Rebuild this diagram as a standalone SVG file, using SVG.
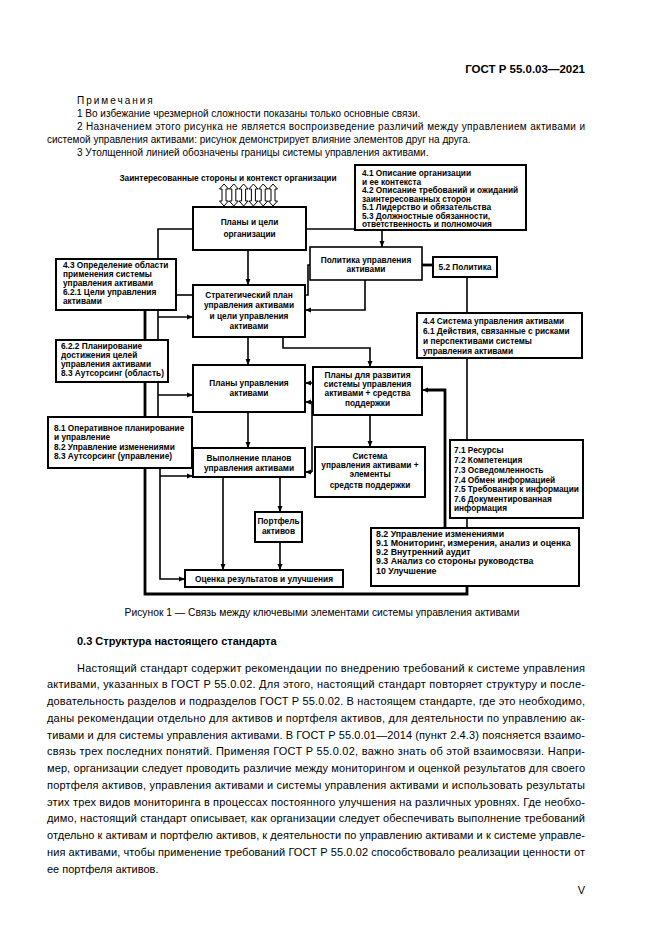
<svg xmlns="http://www.w3.org/2000/svg" width="661" height="935" viewBox="0 0 661 935">
<style>
.pg{font-family:"Liberation Sans",Arial,sans-serif;fill:#000}
.p{font-size:11px}
.n{font-size:10px}
.d{font-family:"Liberation Sans",Arial,sans-serif;font-size:8.3px;font-weight:bold;fill:#000}
.big{font-size:8.8px}
.m{text-anchor:middle}
.b{fill:#fff;stroke:#000;stroke-width:2}
.bt{fill:#fff;stroke:#000;stroke-width:1.6}
.l{fill:none;stroke:#000;stroke-width:1.6}
.k{fill:none;stroke:#000;stroke-width:2.8}
.ha{fill:#fff;stroke:#000;stroke-width:1}
</style>
<defs>
<marker id="a" markerUnits="userSpaceOnUse" markerWidth="6" markerHeight="6" viewBox="0 0 6 6" refX="6" refY="3" orient="auto"><path d="M0,0.5 L6,3 L0,5.5z" fill="#000"/></marker>
</defs>
<rect x="0" y="0" width="661" height="935" fill="#fff"/>

<g id="page-text" class="pg">
<text x="585" y="73" text-anchor="end" font-weight="bold" font-size="11.5">ГОСТ Р 55.0.03—2021</text>
<text class="n" x="77" y="104" letter-spacing="2">Примечания</text>
<text class="n" x="77" y="117">1 Во избежание чрезмерной сложности показаны только основные связи.</text>
<text class="n" x="77" y="130" textLength="508" lengthAdjust="spacing">2 Назначением этого рисунка не является воспроизведение различий между управлением активами и</text>
<text class="n" x="47" y="143">системой управления активами: рисунок демонстрирует влияние элементов друг на друга.</text>
<text class="n" x="77" y="156">3 Утолщенной линией обозначены границы системы управления активами.</text>
<text x="322" y="616" text-anchor="middle" font-size="10.3">Рисунок 1 — Связь между ключевыми элементами системы управления активами</text>
<text x="77" y="645" font-weight="bold" font-size="11">0.3  Структура настоящего стандарта</text>
<text class="p" x="77" y="671.6" textLength="508" lengthAdjust="spacing">Настоящий стандарт содержит рекомендации по внедрению требований к системе управления</text>
<text class="p" x="47" y="688.4" textLength="538" lengthAdjust="spacing">активами, указанных в ГОСТ Р 55.0.02. Для этого, настоящий стандарт повторяет структуру и после-</text>
<text class="p" x="47" y="705.1" textLength="538" lengthAdjust="spacing">довательность разделов и подразделов ГОСТ Р 55.0.02. В настоящем стандарте, где это необходимо,</text>
<text class="p" x="47" y="721.9" textLength="538" lengthAdjust="spacing">даны рекомендации отдельно для активов и портфеля активов, для деятельности по управлению ак-</text>
<text class="p" x="47" y="738.6" textLength="538" lengthAdjust="spacing">тивами и для системы управления активами. В ГОСТ Р 55.0.01—2014 (пункт 2.4.3) поясняется взаимо-</text>
<text class="p" x="47" y="755.4" textLength="538" lengthAdjust="spacing">связь трех последних понятий. Применяя ГОСТ Р 55.0.02, важно знать об этой взаимосвязи. Напри-</text>
<text class="p" x="47" y="772.1" textLength="538" lengthAdjust="spacing">мер, организации следует проводить различие между мониторингом и оценкой результатов для своего</text>
<text class="p" x="47" y="788.9" textLength="538" lengthAdjust="spacing">портфеля активов, управления активами и системы управления активами и использовать результаты</text>
<text class="p" x="47" y="805.6" textLength="538" lengthAdjust="spacing">этих трех видов мониторинга в процессах постоянного улучшения на различных уровнях. Где необхо-</text>
<text class="p" x="47" y="822.4" textLength="538" lengthAdjust="spacing">димо, настоящий стандарт описывает, как организации следует обеспечивать выполнение требований</text>
<text class="p" x="47" y="839.1" textLength="538" lengthAdjust="spacing">отдельно к активам и портфелю активов, к деятельности по управлению активами и к системе управле-</text>
<text class="p" x="47" y="855.9" textLength="538" lengthAdjust="spacing">ния активами, чтобы применение требований ГОСТ Р 55.0.02 способствовало реализации ценности от</text>
<text class="p" x="47" y="872.6">ее портфеля активов.</text>
<text class="p" x="585" y="894" text-anchor="end">V</text>
</g>

<g id="connectors">
<path class="l" d="M307,229 H355"/>
<path class="l" d="M382,230 V247" marker-end="url(#a)"/>
<path class="l" d="M193,229 H158 V259"/>
<path class="l" d="M248,250 V285" marker-end="url(#a)"/>
<path class="l" d="M176,295 H193"/>
<path class="l" d="M158,310 V340"/>
<path class="l" d="M158,317 H193" marker-end="url(#a)"/>
<path class="l" d="M305,295 H308 V265 H310"/>
<path class="l" d="M365,280 V310 H305" marker-end="url(#a)"/>
<path class="l" d="M248,337 V365" marker-end="url(#a)"/>
<path class="l" d="M283,337 V348 H370 V367" marker-end="url(#a)"/>
<path class="k" d="M422,265 H433"/>
<path class="l" d="M467,277 V313"/>
<path class="l" d="M467,358 V440"/>
<path class="l" d="M467,518 V528"/>
<path class="k" d="M445,528 V390 H428"/>
<path class="l" d="M430,390 H422" marker-end="url(#a)"/>
<path class="l" d="M158,382 V417"/>
<path class="l" d="M158,395 H193" marker-end="url(#a)"/>
<path class="l" d="M248,412 V448" marker-end="url(#a)"/>
<path class="l" d="M370,415 V447" marker-end="url(#a)"/>
<path class="l" d="M313,383 H305" marker-end="url(#a)"/>
<path class="l" d="M312,402 V472"/>
<path class="l" d="M312,402 H305" marker-end="url(#a)"/>
<path class="l" d="M312,472 H305" marker-end="url(#a)"/>
<path class="l" d="M223,477 V570" marker-end="url(#a)"/>
<path class="l" d="M280,477 V512" marker-end="url(#a)"/>
<path class="l" d="M280,542 V570" marker-end="url(#a)"/>
<path class="l" d="M160,468 V579 H185" marker-end="url(#a)"/>
<path class="l" d="M160,476 H193" marker-end="url(#a)"/>
<path class="k" d="M145,310 V340 M145,382 V417 M145,468 V594 H467 V586"/>
</g>

<g id="stakeholders">
<text class="d m" x="228" y="180.5">Заинтересованные стороны и контекст организации</text>
<polygon class="ha" points="224,184 228.5,189 226,189 226,201 228.5,201 224,206 219.5,201 222,201 222,189 219.5,189"/>
<polygon class="ha" points="233.8,184 238.3,189 235.8,189 235.8,201 238.3,201 233.8,206 229.3,201 231.8,201 231.8,189 229.3,189"/>
<polygon class="ha" points="243.6,184 248.1,189 245.6,189 245.6,201 248.1,201 243.6,206 239.1,201 241.6,201 241.6,189 239.1,189"/>
<polygon class="ha" points="253.4,184 257.9,189 255.4,189 255.4,201 257.9,201 253.4,206 248.9,201 251.4,201 251.4,189 248.9,189"/>
<polygon class="ha" points="263.2,184 267.7,189 265.2,189 265.2,201 267.7,201 263.2,206 258.7,201 261.2,201 261.2,189 258.7,189"/>
<polygon class="ha" points="273,184 277.5,189 275,189 275,201 277.5,201 273,206 268.5,201 271,201 271,189 268.5,189"/>
</g>

<g id="n-org"><rect class="b" x="193" y="207" width="113" height="43"/>
<text class="d m" x="249.5" y="225">Планы и цели</text><text class="d m" x="249.5" y="237">организации</text></g>

<g id="n-context"><rect class="b" x="355" y="165" width="171" height="65"/>
<text class="d" x="362" y="176">4.1 Описание организации</text>
<text class="d" x="362" y="184.5">и ее контекста</text>
<text class="d" x="362" y="193">4.2 Описание требований и ожиданий</text>
<text class="d" x="362" y="201.5">заинтересованных сторон</text>
<text class="d" x="362" y="210">5.1 Лидерство и обязательства</text>
<text class="d" x="362" y="218.5">5.3 Должностные обязанности,</text>
<text class="d" x="362" y="227">ответственность и полномочия</text></g>

<g id="n-policy"><rect class="bt" x="310" y="247" width="112" height="33"/>
<text class="d m" x="366" y="263">Политика управления</text><text class="d m" x="366" y="272">активами</text></g>

<g id="n-52"><rect class="b" x="433" y="257" width="64" height="20"/>
<text class="d m" x="465" y="270">5.2 Политика</text></g>

<g id="n-43"><rect class="b" x="56" y="259" width="120" height="51"/>
<text class="d" x="63" y="268">4.3 Определение области</text>
<text class="d" x="63" y="276.5">применения системы</text>
<text class="d" x="63" y="285.5">управления активами</text>
<text class="d" x="63" y="294.5">6.2.1 Цели управления</text>
<text class="d" x="63" y="304">активами</text></g>

<g id="n-samp"><rect class="b" x="193" y="285" width="112" height="52"/>
<text class="d m" x="249" y="298">Стратегический план</text>
<text class="d m" x="249" y="308">управления активами</text>
<text class="d m" x="249" y="318.5">и цели управления</text>
<text class="d m" x="249" y="328.5">активами</text></g>

<g id="n-44"><rect class="b" x="417" y="313" width="165" height="45"/>
<text class="d" x="423" y="324">4.4 Система управления активами</text>
<text class="d" x="423" y="334">6.1 Действия, связанные с рисками</text>
<text class="d" x="423" y="344">и перспективами системы</text>
<text class="d" x="423" y="354.3">управления активами</text></g>

<g id="n-622"><rect class="b" x="56" y="340" width="112" height="42"/>
<text class="d" x="61" y="349">6.2.2 Планирование</text>
<text class="d" x="61" y="358">достижения целей</text>
<text class="d" x="61" y="367">управления активами</text>
<text class="d" x="61" y="376">8.3 Аутсорсинг (область)</text></g>

<g id="n-amp"><rect class="b" x="193" y="365" width="112" height="47"/>
<text class="d m" x="249" y="386">Планы управления</text><text class="d m" x="249" y="396">активами</text></g>

<g id="n-dev"><rect class="b" x="313" y="367" width="109" height="48"/>
<text class="d m" x="367.5" y="378">Планы для развития</text>
<text class="d m" x="367.5" y="387">системы управления</text>
<text class="d m" x="367.5" y="396">активами + средства</text>
<text class="d m" x="367.5" y="406">поддержки</text></g>

<g id="n-81"><rect class="b" x="48" y="417" width="144" height="51"/>
<text class="d" x="54" y="430.5">8.1 Оперативное планирование</text>
<text class="d" x="54" y="439.8">и управление</text>
<text class="d" x="54" y="449.6">8.2 Управление изменениями</text>
<text class="d" x="54" y="459.2">8.3 Аутсорсинг (управление)</text></g>

<g id="n-impl"><rect class="b" x="193" y="448" width="112" height="29"/>
<text class="d m" x="249" y="461">Выполнение планов</text><text class="d m" x="249" y="471">управления активами</text></g>

<g id="n-sys"><rect class="b" x="315" y="447" width="110" height="50"/>
<text class="d m" x="370" y="459">Система</text>
<text class="d m" x="370" y="468">управления активами +</text>
<text class="d m" x="370" y="477">элементы</text>
<text class="d m" x="370" y="488">средств поддержки</text></g>

<g id="n-71"><rect class="b" x="450" y="440" width="133" height="78"/>
<text class="d" x="454" y="453">7.1 Ресурсы</text>
<text class="d" x="454" y="463">7.2 Компетенция</text>
<text class="d" x="454" y="473">7.3 Осведомленность</text>
<text class="d" x="454" y="483">7.4 Обмен информацией</text>
<text class="d" x="454" y="492">7.5 Требования к информации</text>
<text class="d" x="454" y="502">7.6 Документированная</text>
<text class="d" x="454" y="511">информация</text></g>

<g id="n-portfolio"><rect class="b" x="255" y="512" width="47" height="30"/>
<text class="d m" x="278.5" y="524">Портфель</text><text class="d m" x="278.5" y="533.5">активов</text></g>

<g id="n-92"><rect class="b" x="371" y="528" width="208" height="58"/>
<text class="d big" x="376" y="537">8.2 Управление изменениями</text>
<text class="d big" x="376" y="546">9.1 Мониторинг, измерения, анализ и оценка</text>
<text class="d big" x="376" y="555">9.2 Внутренний аудит</text>
<text class="d big" x="376" y="564">9.3 Анализ со стороны руководства</text>
<text class="d big" x="376" y="574">10 Улучшение</text></g>

<g id="n-eval"><rect class="b" x="185" y="570" width="158" height="17"/>
<text class="d m" x="264" y="581.5">Оценка результатов и улучшения</text></g>
</svg>
